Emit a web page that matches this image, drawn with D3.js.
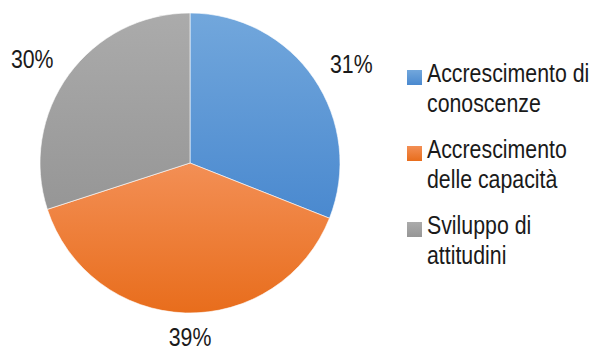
<!DOCTYPE html>
<html>
<head>
<meta charset="utf-8">
<script src="https://cdn.jsdelivr.net/npm/d3@7"></script>
<style>
  body { margin: 0; background: #fff; }
  text { font-family: "Liberation Sans Narrow", "Arial Narrow", "Liberation Sans", sans-serif; fill: #1a1a1a; }
</style>
</head>
<body>
<div id="chart"></div>
<script>
// data
const categories = ["Accrescimento di conoscenze", "Accrescimento delle capacità", "Sviluppo di attitudini"];
const legendLines = [["Accrescimento di", "conoscenze"], ["Accrescimento", "delle capacità"], ["Sviluppo di", "attitudini"]];
const values = [31, 39, 30];
const colorsTop = ["#72a7dc", "#f38f55", "#ababab"];
const colorsBottom = ["#4a89cf", "#e86d1c", "#969696"];

const width = 596, height = 349;
const cx = 190, cy = 163, radius = 150;
const narrow = 0.82; // no narrow font installed, so squeeze the normal one

const svg = d3.select("#chart")
  .append("svg")
    .attr("width", width)
    .attr("height", height);

// gradients, one per slice
const defs = svg.append("defs");
categories.forEach(function(c, i) {
  const g = defs.append("linearGradient")
    .attr("id", "grad" + i)
    .attr("x1", 0).attr("y1", 0).attr("x2", 0).attr("y2", 1);
  g.append("stop").attr("offset", "0%").attr("stop-color", colorsTop[i]);
  g.append("stop").attr("offset", "100%").attr("stop-color", colorsBottom[i]);
});

const pie = d3.pie().sort(null).value(d => d);
const arcs = pie(values);
const arc = d3.arc().innerRadius(0).outerRadius(radius);

const g = svg.append("g").attr("transform", "translate(" + cx + "," + cy + ")");

g.selectAll("path")
  .data(arcs)
  .enter()
  .append("path")
    .attr("d", arc)
    .attr("fill", (d, i) => "url(#grad" + i + ")")
    .attr("stroke", "#fff")
    .attr("stroke-width", 0.6);

// outside labels (on an ellipse so wide text clears the edge)
const labelRx = 195, labelRy = 177;
g.selectAll("text.pct")
  .data(arcs)
  .enter()
  .append("text")
    .attr("class", "pct")
    .attr("transform", function(d) {
      const a = (d.startAngle + d.endAngle) / 2;
      // label near the bottom sits centred under the pie, like excel does
      const x = Math.abs(Math.cos(a)) > 0.99 ? 0 : labelRx * Math.sin(a);
      const y = Math.min(-labelRy * Math.cos(a), 174);
      return "translate(" + x + "," + y + ") scale(" + narrow + ",1)";
    })
    .attr("dy", "0.36em")
    .attr("text-anchor", "middle")
    .attr("font-size", "26px")
    .text(d => d.data + "%");

// legend
const legend = svg.append("g").attr("transform", "translate(407,70)");
const item = legend.selectAll("g")
  .data(categories)
  .enter()
  .append("g")
    .attr("transform", (d, i) => "translate(0," + (i * 76) + ")");

item.append("rect")
  .attr("width", 15)
  .attr("height", 15)
  .attr("fill", (d, i) => "url(#grad" + i + ")");

item.append("text")
  .attr("transform", "translate(20,12) scale(" + narrow + ",1)")
  .attr("font-size", "26px")
  .selectAll("tspan")
  .data((d, i) => legendLines[i])
  .enter()
  .append("tspan")
    .attr("x", 0)
    .attr("dy", (d, j) => j === 0 ? 0 : 30)
    .text(d => d);
</script>
</body>
</html>
